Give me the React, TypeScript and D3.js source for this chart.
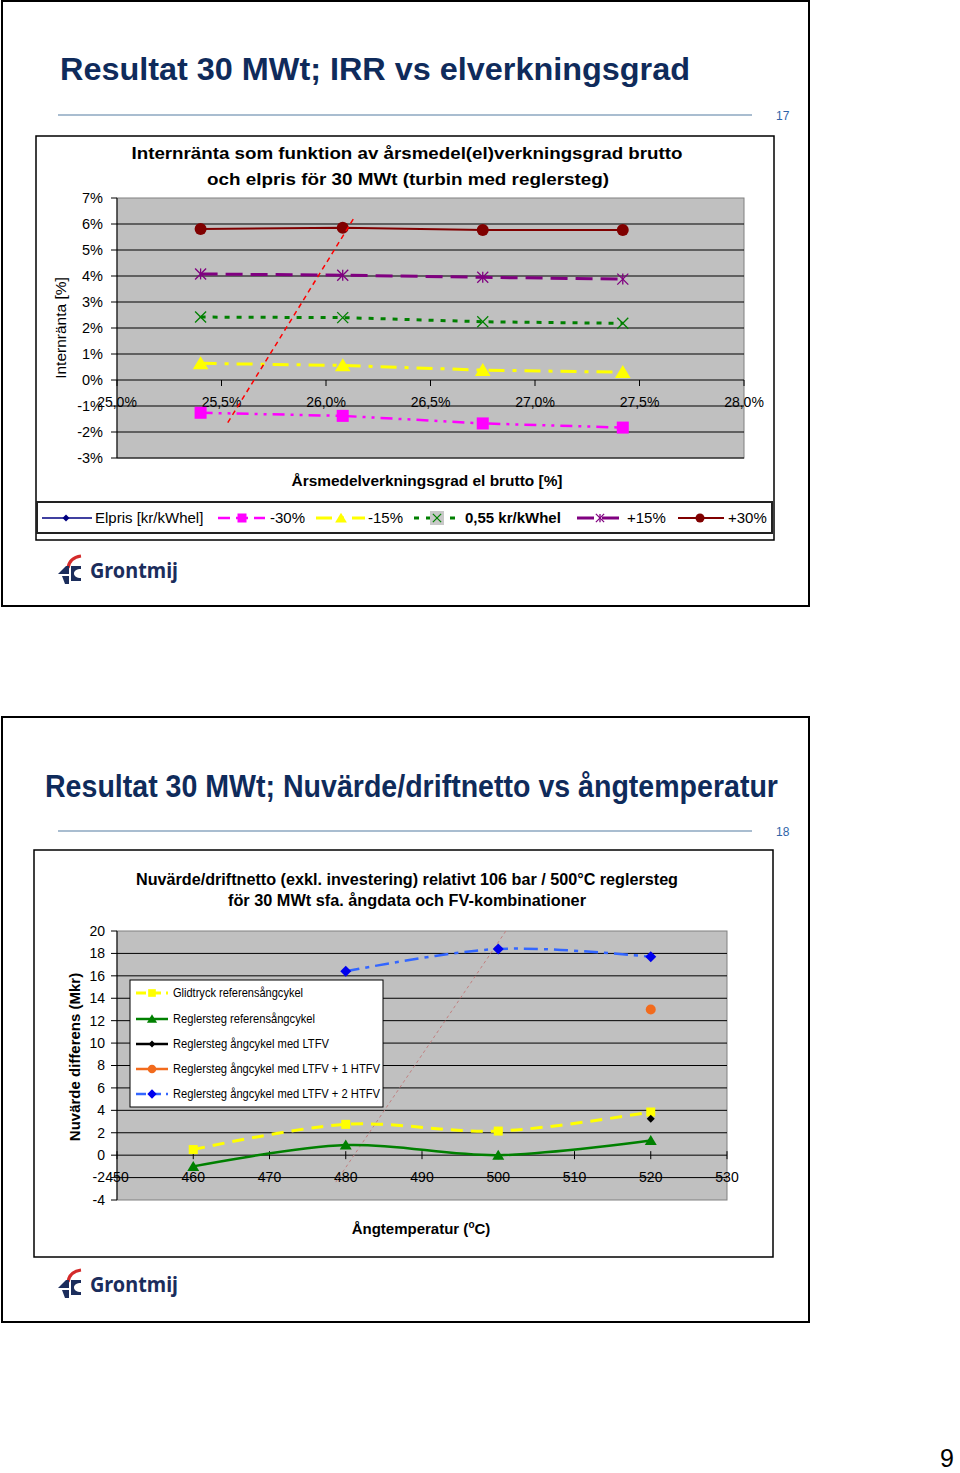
import * as d3 from "d3";

const FONT = "'Liberation Sans', Arial, Helvetica, sans-serif";
const NAVY = "#0f2b5b";

// slide 17: IRR vs efficiency
const efficiency = [25.4, 26.08, 26.75, 27.42];
const irrMinus30 = [-1.26, -1.38, -1.67, -1.83];
const irrMinus15 = [0.64, 0.56, 0.38, 0.3];
const irrBase = [2.42, 2.4, 2.24, 2.18];
const irrPlus15 = [4.08, 4.03, 3.95, 3.88];
const irrPlus30 = [5.81, 5.86, 5.77, 5.77];
const irrTrendX = [25.53, 26.14];
const irrTrendY = [-1.64, 6.31];
const effTicks = [25.0, 25.5, 26.0, 26.5, 27.0, 27.5, 28.0];
const irrTicks = [-3, -2, -1, 0, 1, 2, 3, 4, 5, 6, 7];

// slide 18: net present value vs steam temperature
const temps = [460, 480, 500, 520];
const glidtryck = [0.5, 2.75, 2.15, 3.85];
const reglersteg = [-1.0, 0.9, 0.0, 1.3];
const ltfvTemps = [520];
const ltfv = [3.25];
const ltfv1 = [13.0];
const ltfv2Temps = [480, 500, 520];
const ltfv2 = [16.4, 18.4, 17.7];
const nvTrendX = [478.7, 501];
const nvTrendY = [-2.4, 20];
const tempTicks = [450, 460, 470, 480, 490, 500, 510, 520, 530];
const nvTicks = [-4, -2, 0, 2, 4, 6, 8, 10, 12, 14, 16, 18, 20];

type Kind = "square" | "triangle" | "x" | "star" | "circle" | "diamond";

function Marker(props: { kind: Kind; x: number; y: number; s: number; color: string; sw?: number }) {
  const { kind, x, y, s, color } = props;
  const h = s / 2;
  const sw = props.sw ?? 1.3;
  if (kind === "square") return <rect x={x - h} y={y - h} width={s} height={s} fill={color} />;
  if (kind === "circle") return <circle cx={x} cy={y} r={h} fill={color} />;
  if (kind === "triangle")
    return <path d={`M${x},${y - s * 0.55}L${x + s * 0.6},${y + s * 0.45}L${x - s * 0.6},${y + s * 0.45}Z`} fill={color} />;
  if (kind === "diamond")
    return <path d={`M${x},${y - h}L${x + h},${y}L${x},${y + h}L${x - h},${y}Z`} fill={color} />;
  const lines = [
    [x - h, y - h, x + h, y + h],
    [x - h, y + h, x + h, y - h],
  ];
  if (kind === "star") lines.push([x, y - h, x, y + h]);
  return (
    <g stroke={color} strokeWidth={sw}>
      {lines.map((l, i) => (
        <line key={i} x1={l[0]} y1={l[1]} x2={l[2]} y2={l[3]} />
      ))}
    </g>
  );
}

function Logo({ x, y }: { x: number; y: number }) {
  return (
    <g transform={`translate(${x},${y})`}>
      <path d="M10,13 C11,6 16,2 23,1" fill="none" stroke="#d42a2a" strokeWidth={3.2} />
      <path d="M0,19 L8,11 L11,11 L11,19 Z" fill="#1b2d5c" />
      <path d="M4,21 L11,21 L11,29 L7,29 Z" fill="#1b2d5c" />
      <path d="M13,11 L23,11 L23,14 C18.5,14 16,16 16,18.5 C16,21 18.5,23 23,23 L23,26 L13,26 Z" fill="#1b2d5c" />
      <text x={32} y={23} fontFamily="'Noto Sans', sans-serif" fontWeight="bold" fontSize={21} fill="#1b2d5c" textLength={88} lengthAdjust="spacingAndGlyphs">
        Grontmij
      </text>
    </g>
  );
}

function SlideFrame({ top, num }: { top: number; num: string }) {
  return (
    <g>
      <rect x={2} y={top + 1} width={807} height={605} fill="white" stroke="black" strokeWidth={2} />
      <line x1={58} x2={752} y1={top + 115} y2={top + 115} stroke="#8da7c0" strokeWidth={1.5} />
      <text x={776} y={top + 120} fontFamily={FONT} fontSize={12} fill="#2e64a8">{num}</text>
    </g>
  );
}

function IrrChart() {
  const x = d3.scaleLinear().domain([25, 28]).range([117, 744]);
  const y = d3.scaleLinear().domain([-3, 7]).range([458, 198]);
  const line = d3.line<[number, number]>().x((d) => x(d[0])).y((d) => y(d[1]));
  const pts = (vals: number[]) => efficiency.map((e, i) => [e, vals[i]] as [number, number]);

  const series = [
    { name: "-30%", vals: irrMinus30, color: "#ff00ff", dash: "12,6,3,6,3,6", w: 2.5, kind: "square" as Kind, s: 12, lx: 218, ly: 265, mx: 242, tx: 270 },
    { name: "-15%", vals: irrMinus15, color: "#ffff00", dash: "16,8,4,8", w: 3, kind: "triangle" as Kind, s: 13, lx: 316, ly: 365, mx: 341, tx: 368 },
    { name: "0,55 kr/kWhel", vals: irrBase, color: "#008000", dash: "5,7", w: 3, kind: "x" as Kind, s: 11, lx: 414, ly: 462, mx: 437, tx: 465 },
    { name: "+15%", vals: irrPlus15, color: "#800080", dash: "17,8", w: 3, kind: "star" as Kind, s: 11, lx: 577, ly: 620, mx: 600, tx: 627 },
    { name: "+30%", vals: irrPlus30, color: "#800000", dash: "", w: 2, kind: "circle" as Kind, s: 12, lx: 678, ly: 724, mx: 700, tx: 728 },
  ];

  return (
    <g fontFamily={FONT}>
      <rect x={36} y={136} width={738} height={404} fill="white" stroke="black" strokeWidth={1.5} />
      <text x={407} y={159} textAnchor="middle" fontWeight="bold" fontSize={17} textLength={551} lengthAdjust="spacingAndGlyphs">
        Internränta som funktion av årsmedel(el)verkningsgrad brutto
      </text>
      <text x={408} y={185} textAnchor="middle" fontWeight="bold" fontSize={17} textLength={402} lengthAdjust="spacingAndGlyphs">
        och elpris för 30 MWt  (turbin med reglersteg)
      </text>
      <rect x={117} y={198} width={627} height={260} fill="#c0c0c0" stroke="#808080" strokeWidth={1} />
      {irrTicks.filter((t) => t !== 0 && t !== 7).map((t) => (
        <line key={t} x1={117} x2={744} y1={y(t)} y2={y(t)} stroke="black" strokeWidth={1} />
      ))}
      <line x1={117} x2={117} y1={198} y2={458} stroke="black" />
      <line x1={117} x2={744} y1={y(0)} y2={y(0)} stroke="black" />
      {irrTicks.map((t) => (
        <g key={t}>
          <line x1={111} x2={117} y1={y(t)} y2={y(t)} stroke="black" />
          <text x={103} y={y(t)} dy="0.35em" textAnchor="end" fontSize={14.5}>{`${t}%`}</text>
        </g>
      ))}
      {effTicks.map((t) => (
        <g key={t}>
          <line x1={x(t)} x2={x(t)} y1={y(0)} y2={y(0) + 6} stroke="black" />
          <text x={x(t)} y={402} dy="0.35em" textAnchor="middle" fontSize={14}>{`${d3.format(".1f")(t).replace(".", ",")}%`}</text>
        </g>
      ))}
      {series.map((s) => (
        <path key={s.name} d={line(pts(s.vals)) ?? ""} fill="none" stroke={s.color} strokeWidth={s.w} strokeDasharray={s.dash} />
      ))}
      {series.map((s) =>
        pts(s.vals).map((p, i) => <Marker key={s.name + i} kind={s.kind} x={x(p[0])} y={y(p[1])} s={s.s} color={s.color} />)
      )}
      <path
        d={line(irrTrendX.map((v, i) => [v, irrTrendY[i]] as [number, number])) ?? ""}
        fill="none"
        stroke="#ff0000"
        strokeWidth={1.5}
        strokeDasharray="5,4"
      />
      <text transform="translate(66,328) rotate(-90)" textAnchor="middle" fontSize={15.5}>
        Internränta [%]
      </text>
      <text x={427} y={486} textAnchor="middle" fontWeight="bold" fontSize={15} textLength={271} lengthAdjust="spacingAndGlyphs">
        Årsmedelverkningsgrad el brutto [%]
      </text>
      {/* legend */}
      <rect x={37} y={502} width={735} height={31} fill="white" stroke="#222" strokeWidth={2} />
      <line x1={42} x2={92} y1={518} y2={518} stroke="#000080" strokeWidth={1.5} />
      <Marker kind="diamond" x={66} y={518} s={7} color="#000080" />
      <text x={95} y={518} dy="0.35em" fontSize={15}>Elpris [kr/kWhel]</text>
      {series.map((s) => (
        <g key={s.name}>
          <line x1={s.lx} x2={s.ly} y1={518} y2={518} stroke={s.color} strokeWidth={s.w} strokeDasharray={s.dash} />
          {s.kind === "x" && <rect x={s.mx - 7} y={511} width={14} height={14} fill="#c8c8c8" />}
          <Marker kind={s.kind} x={s.mx} y={518} s={s.s * 0.75} color={s.color} />
          <text x={s.tx} y={518} dy="0.35em" fontSize={15} fontWeight={s.kind === "x" ? "bold" : "normal"}>{s.name}</text>
        </g>
      ))}
    </g>
  );
}

function NvChart() {
  const x = d3.scaleLinear().domain([450, 530]).range([117, 727]);
  const y = d3.scaleLinear().domain([-4, 20]).range([1200, 931]);
  const smooth = d3.line<[number, number]>().x((d) => x(d[0])).y((d) => y(d[1])).curve(d3.curveCatmullRom.alpha(0.5));
  const straight = d3.line<[number, number]>().x((d) => x(d[0])).y((d) => y(d[1]));
  const zip = (xs: number[], ys: number[]) => xs.map((v, i) => [v, ys[i]] as [number, number]);

  const series = [
    { name: "Glidtryck referensångcykel", xs: temps, ys: glidtryck, color: "#ffff00", mcolor: "#ffff00", dash: "12,8", w: 3, kind: "square" as Kind, s: 9 },
    { name: "Reglersteg referensångcykel", xs: temps, ys: reglersteg, color: "#008000", mcolor: "#008000", dash: "", w: 2.5, kind: "triangle" as Kind, s: 10 },
    { name: "Reglersteg ångcykel med LTFV", xs: ltfvTemps, ys: ltfv, color: "#000000", mcolor: "#000000", dash: "", w: 2.5, kind: "diamond" as Kind, s: 8 },
    { name: "Reglersteg ångcykel med LTFV + 1 HTFV", xs: ltfvTemps, ys: ltfv1, color: "#f26b1d", mcolor: "#f26b1d", dash: "", w: 2.5, kind: "circle" as Kind, s: 10 },
    { name: "Reglersteg ångcykel med LTFV + 2 HTFV", xs: ltfv2Temps, ys: ltfv2, color: "#3366ff", mcolor: "#0000ee", dash: "14,6,4,6", w: 2.5, kind: "diamond" as Kind, s: 11 },
  ];
  const legendY = [993, 1019, 1044, 1069, 1094];
  const legendW = [130, 142, 156, 207, 207];

  return (
    <g fontFamily={FONT}>
      <rect x={34} y={850} width={739} height={407} fill="white" stroke="black" strokeWidth={1.5} />
      <text x={407} y={884.5} textAnchor="middle" fontWeight="bold" fontSize={16} textLength={542} lengthAdjust="spacingAndGlyphs">
        Nuvärde/driftnetto (exkl. investering) relativt 106 bar / 500°C reglersteg
      </text>
      <text x={407} y={906} textAnchor="middle" fontWeight="bold" fontSize={16} textLength={358} lengthAdjust="spacingAndGlyphs">
        för 30 MWt sfa. ångdata och FV-kombinationer
      </text>
      <rect x={117} y={931} width={610} height={269} fill="#c0c0c0" stroke="#808080" strokeWidth={1} />
      {nvTicks.filter((t) => t !== 0 && t !== 20 && t !== -4).map((t) => (
        <line key={t} x1={117} x2={727} y1={y(t)} y2={y(t)} stroke="black" strokeWidth={1} />
      ))}
      <line x1={117} x2={117} y1={931} y2={1200} stroke="black" />
      <line x1={117} x2={727} y1={y(0)} y2={y(0)} stroke="black" />
      {nvTicks.map((t) => (
        <g key={t}>
          <line x1={111} x2={117} y1={y(t)} y2={y(t)} stroke="black" />
          <text x={105} y={y(t)} dy="0.35em" textAnchor="end" fontSize={14}>{t}</text>
        </g>
      ))}
      {tempTicks.map((t) => (
        <g key={t}>
          <line x1={x(t)} x2={x(t)} y1={y(0) - 4} y2={y(0) + 4} stroke="black" />
          <text x={x(t)} y={1177} dy="0.35em" textAnchor="middle" fontSize={14}>{t}</text>
        </g>
      ))}
      <path
        d={straight(zip(nvTrendX, nvTrendY)) ?? ""}
        fill="none"
        stroke="#c08080"
        strokeWidth={1}
        strokeDasharray="3,3"
      />
      {series.filter((s) => s.xs.length > 1).map((s) => (
        <path key={s.name} d={smooth(zip(s.xs, s.ys)) ?? ""} fill="none" stroke={s.color} strokeWidth={s.w} strokeDasharray={s.dash} />
      ))}
      {series.map((s) =>
        zip(s.xs, s.ys).map((p, i) => <Marker key={s.name + i} kind={s.kind} x={x(p[0])} y={y(p[1])} s={s.s} color={s.mcolor} />)
      )}
      <text transform="translate(80,1057) rotate(-90)" textAnchor="middle" fontWeight="bold" fontSize={15}>
        Nuvärde differens (Mkr)
      </text>
      <text x={421} y={1233.5} textAnchor="middle" fontWeight="bold" fontSize={15}>
        Ångtemperatur (<tspan fontSize={10} dy={-6}>o</tspan><tspan dy={6}>C)</tspan>
      </text>
      {/* legend */}
      <rect x={130} y={980} width={253} height={127} fill="white" stroke="black" strokeWidth={1} />
      {series.map((s, i) => (
        <g key={s.name}>
          <line x1={136} x2={168} y1={legendY[i]} y2={legendY[i]} stroke={s.color} strokeWidth={s.w} strokeDasharray={s.dash ? "10,5" : ""} />
          <Marker kind={s.kind} x={152} y={legendY[i]} s={s.s * 0.85} color={s.mcolor} />
          <text x={173} y={legendY[i]} dy="0.35em" fontSize={12.5} textLength={legendW[i]} lengthAdjust="spacingAndGlyphs">{s.name}</text>
        </g>
      ))}
    </g>
  );
}

export default function App() {
  return (
    <svg width={960} height={1473} style={{ position: "absolute", left: 0, top: 0, background: "white" }}>
      <rect width={960} height={1473} fill="white" />
      <SlideFrame top={0} num="17" />
      <text x={60} y={80} fontFamily={FONT} fontWeight="bold" fontSize={32} fill={NAVY} textLength={630} lengthAdjust="spacingAndGlyphs">
        Resultat 30 MWt; IRR vs elverkningsgrad
      </text>
      <IrrChart />
      <Logo x={58} y={555} />

      <SlideFrame top={716} num="18" />
      <text x={45} y={797} fontFamily={FONT} fontWeight="bold" fontSize={31} fill={NAVY} textLength={733} lengthAdjust="spacingAndGlyphs">
        Resultat 30 MWt; Nuvärde/driftnetto vs ångtemperatur
      </text>
      <NvChart />
      <Logo x={58} y={1269} />

      <text x={954} y={1467} textAnchor="end" fontFamily={FONT} fontSize={25}>9</text>
    </svg>
  );
}
